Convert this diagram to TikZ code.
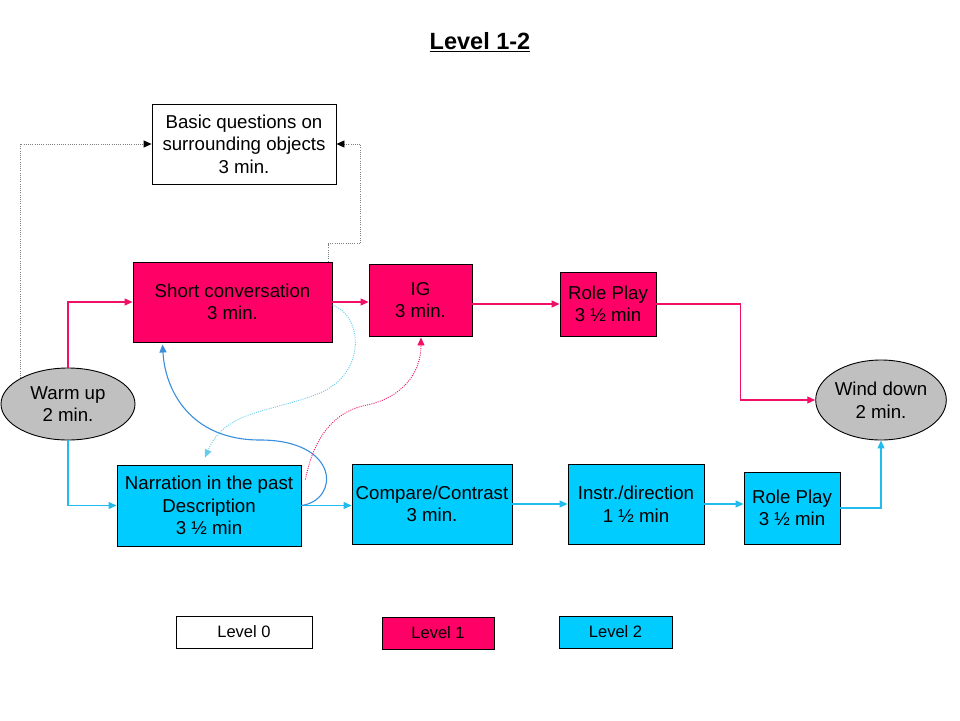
\documentclass[tikz,border=0pt]{standalone}
\usepackage{fontspec}
\setmainfont{Liberation Sans}
\usetikzlibrary{arrows.meta,shapes.geometric,calc}
\definecolor{lvone}{HTML}{FF0066}
\definecolor{lvtwo}{HTML}{00CCFF}
\definecolor{gbox}{HTML}{C0C0C0}
\definecolor{pline}{HTML}{F01068}
\definecolor{cline}{HTML}{22BBEE}
\definecolor{bline}{HTML}{3A8FDD}
\definecolor{cdot}{HTML}{66CCEE}
\definecolor{gdot}{HTML}{808080}
\begin{document}
\begin{tikzpicture}[x=1pt,y=-1pt,
  box/.style={draw=black,line width=0.9pt,inner sep=0pt,align=center,
    font=\fontsize{18.67}{22.5}\selectfont},
  oval/.style={ellipse,draw=black,line width=0.9pt,fill=gbox,inner sep=0pt,align=center,
    font=\fontsize{18.67}{22.5}\selectfont},
  legbox/.style={draw=black,line width=0.9pt,inner sep=0pt,font=\fontsize{16.5}{19}\selectfont},
  tip/.style={-{Triangle[length=8pt,width=7pt]}},
  pcon/.style={tip,draw=pline,line width=1.1pt},
  ccon/.style={tip,draw=cline,line width=1.1pt},
  gcon/.style={-{Triangle[length=8pt,width=7pt,color=black]},draw=gdot,line width=0.9pt,dash pattern=on 1pt off 1.2pt},
]
\useasboundingbox (0,0) rectangle (960,720);
\fill[white] (0,0) rectangle (960,720);

\node[font=\bfseries\fontsize{23.5}{28}\selectfont] (title) at (480,42) {\underline{Level 1-2}};

\node[box,minimum width=184pt,minimum height=80pt] (bq) at (244,144)
  {Basic questions on\\ surrounding objects\\ 3 min.};
\node[box,fill=lvone,minimum width=199pt,minimum height=80pt] (sc) at (232.5,302)
  {Short conversation\\ 3 min.};
\node[box,fill=lvone,minimum width=103pt,minimum height=72pt] (ig) at (420.5,300)
  {IG\\ 3 min.};
\node[box,fill=lvone,minimum width=96pt,minimum height=64pt] (rpa) at (608,304)
  {Role Play\\ 3 ½ min};
\node[oval,minimum width=134pt,minimum height=72pt] (wu) at (68,404)
  {Warm up\\ 2 min.};
\node[oval,minimum width=112pt,minimum height=80pt] (wd) at (881,400)
  {Wind down\\ 2 min.};
\node[box,fill=lvtwo,minimum width=184pt,minimum height=81pt] (nr) at (209,505.5)
  {Narration in the past\\ Description\\ 3 ½ min};
\node[box,fill=lvtwo,minimum width=160pt,minimum height=80pt] (cc) at (432,504)
  {Compare/Contrast\\ 3 min.};
\node[box,fill=lvtwo,minimum width=136pt,minimum height=80pt] (id) at (636,504)
  {Instr./direction\\ 1 ½ min};
\node[box,fill=lvtwo,minimum width=96pt,minimum height=72pt] (rpb) at (792,508)
  {Role Play\\ 3 ½ min};

\node[legbox,minimum width=136pt,minimum height=32pt] (l0) at (244,632) {Level 0};
\node[legbox,fill=lvone,minimum width=112pt,minimum height=32pt] (l1) at (438,633) {Level 1};
\node[legbox,fill=lvtwo,minimum width=113pt,minimum height=32pt] (l2) at (615.5,632) {Level 2};

% solid connectors
\draw[pcon] (wu.north) |- (sc.west);
\draw[ccon] (wu.south) |- (nr.west);
\draw[pcon] (sc.east) -- (sc.east -| ig.west);
\draw[pcon] (rpa.west -| ig.east) -- (rpa.west);
\draw[pcon] (rpa.east) -- ++(84,0) |- (wd.west);
\draw[ccon] (nr.east) -- (nr.east -| cc.west);
\draw[ccon] (cc.east) -- (id.west);
\draw[ccon] (id.east) -- (id.east -| rpb.west);
\draw[ccon] (rpb.east) -| (wd.south);

% dotted gray connectors
\draw[gcon] (wu.north west) |- (bq.west);
\draw[gcon] ([xshift=-4pt]sc.north east) -- ++(0,-18) -- ++(32,0) |- (bq.east);

% curved connectors
\draw[tip,draw=bline,line width=1.1pt] (nr.east)
  .. controls (340,500) and (340,440) .. (260,440)
  .. controls (190,440) and (165,390) .. ($(sc.south west)+(30,2)$);
\draw[tip,draw=cdot,line width=0.9pt,dash pattern=on 1pt off 1.2pt] ($(sc.east)+(0,3)$)
  .. controls (362,315) and (368,372) .. (320,393)
  .. controls (270,413) and (225,410) .. ($(nr.north)+(-4,-7)$);
\draw[tip,draw=pline,line width=0.9pt,dash pattern=on 1pt off 1.2pt] ($(nr.north east)+(4,15)$)
  .. controls (315,430) and (340,410) .. (367,405)
  .. controls (400,398) and (421,375) .. ($(ig.south)+(0.5,1)$);
\end{tikzpicture}
\end{document}
